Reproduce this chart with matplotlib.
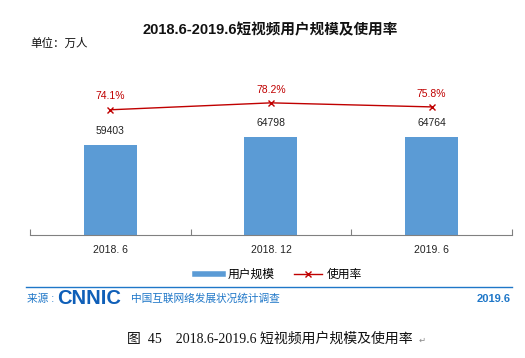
import matplotlib.pyplot as plt
from matplotlib.lines import Line2D

plt.rcParams['font.family'] = ['Liberation Sans', 'Noto Sans CJK SC', 'DejaVu Sans']

# data
periods = ["2018. 6", "2018. 12", "2019. 6"]
users = [59403, 64798, 64764]
usage_rate = [74.1, 78.2, 75.8]

bar_color = "#5B9BD5"
line_color = "#C00000"
src_blue = "#1F77C8"

fig = plt.figure(figsize=(5.25, 3.58), dpi=100)

ax = fig.add_axes([0.0571, 0.3436, 0.9181, 0.472])
x = list(range(len(periods)))
ax.bar(x, users, width=0.33, color=bar_color, zorder=2)
for xi, v in zip(x, users):
    ax.annotate(str(v), (xi, v), xytext=(0, 7), textcoords="offset points",
                ha="center", va="bottom", fontsize=7.5, color="#222222")
ax.set_ylim(0, 112000)
ax.set_xlim(-0.5, 2.5)
ax.set_yticks([])
for s in ["top", "right", "left"]:
    ax.spines[s].set_visible(False)
ax.spines["bottom"].set_color("#808080")
ax.set_xticks([-0.5, 0.5, 1.5, 2.5])
ax.set_xticklabels([])
ax.tick_params(axis="x", length=4, color="#808080", direction="in")
for xi, lab in zip(x, periods):
    ax.text(xi, -0.06, lab, transform=ax.get_xaxis_transform(), ha="center",
            va="top", fontsize=7.5, color="#222222")

ax2 = ax.twinx()
ax2.set_ylim(0, 100)
ax2.set_yticks([])
for s in ["top", "right", "left", "bottom"]:
    ax2.spines[s].set_visible(False)
line, = ax2.plot(x, usage_rate, color=line_color, lw=1, marker="x", ms=5,
                 mew=1)
for xi, v in zip(x, usage_rate):
    ax2.annotate(f"{v}%", (xi, v), xytext=(0, 6), textcoords="offset points",
                 ha="center", va="bottom", fontsize=7.5, color=line_color)

fig.text(0.515, 0.915, "2018.6-2019.6短视频用户规模及使用率", ha="center", va="center",
         fontsize=10.5, fontweight="bold", color="#111111")
fig.text(0.057, 0.877, "单位：万人", ha="left", va="center", fontsize=8.3, color="#111111")

h1 = Line2D([], [], color=bar_color, lw=4)
fig.legend([h1, line], ["用户规模", "使用率"], loc="center", bbox_to_anchor=(0.53, 0.232),
           ncol=2, frameon=False, fontsize=8.5, handlelength=2.4, columnspacing=1.6,
           handletextpad=0.4)

fig.add_artist(Line2D([0.05, 0.975], [0.198, 0.198], color=src_blue, lw=1))
fig.text(0.052, 0.166, "来源 :", ha="left", va="center", fontsize=7.7, color=src_blue)
fig.text(0.108, 0.166, "CNNIC", ha="left", va="center", fontsize=14.5, fontweight="heavy",
         color="#0F5FB8")
fig.text(0.25, 0.166, "中国互联网络发展状况统计调查", ha="left", va="center", fontsize=7.7,
         color=src_blue)
fig.text(0.972, 0.166, "2019.6", ha="right", va="center", fontsize=8, fontweight="bold",
         color=src_blue)

fig.text(0.242, 0.053, "图  45    2018.6-2019.6 短视频用户规模及使用率", ha="left", va="center",
         fontsize=10, color="#111111", family=['Liberation Serif', 'Noto Sans CJK SC'])
fig.text(0.797, 0.05, "\u21b5", ha="left", va="center", fontsize=6, color="#888888",
         family=['DejaVu Sans'])

fig.savefig("out.png", dpi=100)
